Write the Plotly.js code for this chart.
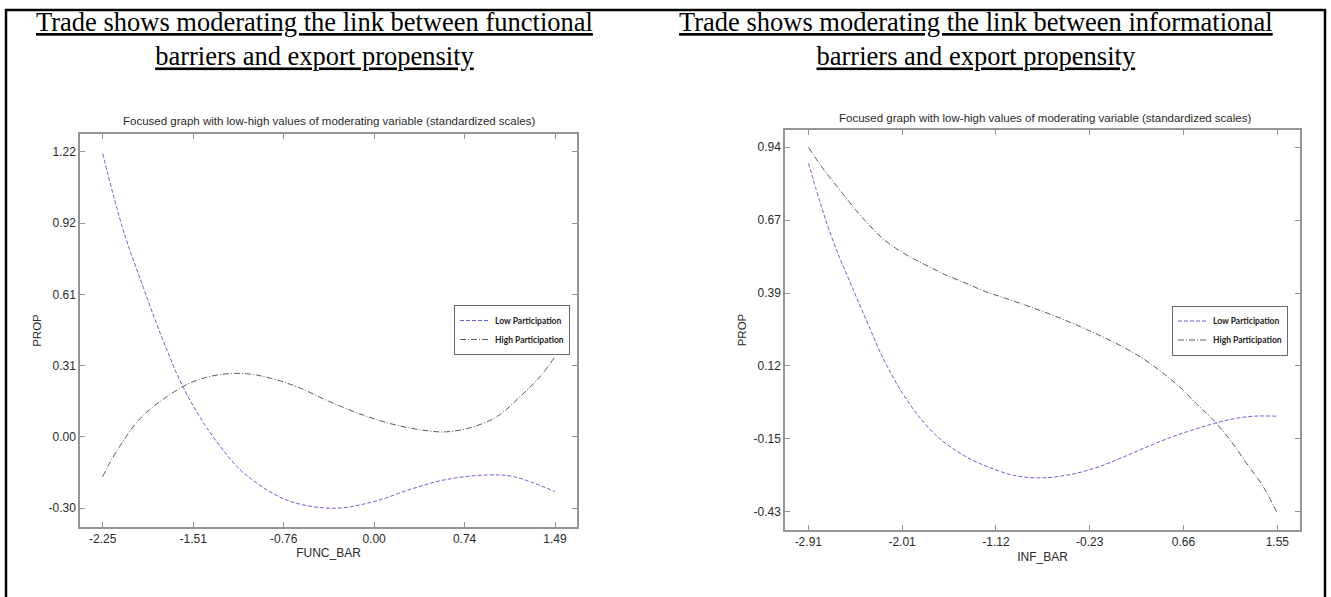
<!DOCTYPE html>
<html>
<head>
<meta charset="utf-8">
<script src="https://cdn.plot.ly/plotly-3.0.1.min.js"></script>
<style>
  html, body { margin: 0; padding: 0; background: #ffffff; }
  #chart { width: 1331px; height: 597px; }
</style>
</head>
<body>
<div id="chart"></div>
<script>
// ---------- Data ----------
// Left panel: functional barriers (FUNC_BAR) vs PROP
const funcLowX  = [-2.25, -2.08, -1.914, -1.749, -1.584, -1.39, -1.17, -1.06, -0.729, -0.343, -0.012, 0.319, 0.595, 0.925, 1.146, 1.49];
const funcLowY  = [1.212, 0.885, 0.641, 0.413, 0.215, 0.044, -0.105, -0.160, -0.265, -0.300, -0.272, -0.215, -0.177, -0.158, -0.165, -0.229];
const funcHighX = [-2.25, -2.19, -2.08, -1.969, -1.859, -1.749, -1.584, -1.446, -1.28, -1.115, -0.977, -0.784, -0.63, -0.370, -0.095, 0.181, 0.457, 0.595, 0.787, 1.008, 1.201, 1.366, 1.49];
const funcHighY = [-0.165, -0.105, -0.013, 0.066, 0.122, 0.165, 0.220, 0.250, 0.270, 0.275, 0.268, 0.243, 0.215, 0.154, 0.097, 0.054, 0.029, 0.026, 0.043, 0.090, 0.176, 0.261, 0.346];

// Right panel: informational barriers (INF_BAR) vs PROP
const infLowX  = [-2.908, -2.839, -2.775, -2.712, -2.617, -2.522, -2.427, -2.332, -2.237, -2.142, -2.014, -1.856, -1.698, -1.539, -1.349, -1.183, -0.961, -0.707, -0.454, -0.200, 0.054, 0.307, 0.561, 0.814, 0.941, 1.131, 1.321, 1.543];
const infLowY  = [0.880, 0.786, 0.704, 0.629, 0.529, 0.441, 0.353, 0.266, 0.178, 0.103, 0.015, -0.073, -0.142, -0.192, -0.236, -0.264, -0.293, -0.303, -0.293, -0.268, -0.230, -0.187, -0.147, -0.114, -0.099, -0.081, -0.071, -0.071];
const infHighX = [-2.908, -2.807, -2.712, -2.585, -2.458, -2.332, -2.205, -2.078, -1.919, -1.761, -1.603, -1.412, -1.222, -1.032, -0.771, -0.517, -0.263, -0.010, 0.244, 0.434, 0.624, 0.783, 0.941, 1.100, 1.258, 1.416, 1.543];
const infHighY = [0.940, 0.880, 0.830, 0.767, 0.704, 0.648, 0.598, 0.560, 0.523, 0.491, 0.460, 0.429, 0.397, 0.372, 0.336, 0.298, 0.255, 0.208, 0.153, 0.100, 0.038, -0.025, -0.085, -0.160, -0.248, -0.336, -0.430];

// Tick positions and labels
const funcXTickVals = [-2.25, -1.502, -0.754, -0.006, 0.742, 1.49];
const funcXTickText = ['-2.25', '-1.51', '-0.76', '0.00', '0.74', '1.49'];
const funcYTickVals = [-0.30, 0.004, 0.308, 0.612, 0.916, 1.22];
const funcYTickText = ['-0.30', '0.00', '0.31', '0.61', '0.92', '1.22'];
const infXTickVals  = [-2.91, -2.018, -1.126, -0.234, 0.658, 1.55];
const infXTickText  = ['-2.91', '-2.01', '-1.12', '-0.23', '0.66', '1.55'];
const infYTickVals  = [-0.43, -0.156, 0.118, 0.392, 0.666, 0.94];
const infYTickText  = ['-0.43', '-0.15', '0.12', '0.39', '0.67', '0.94'];

const seriesNames = ['Low Participation', 'High Participation'];
const headingLines = [
  ['Trade shows moderating the link between functional', 'barriers and export propensity'],
  ['Trade shows moderating the link between informational', 'barriers and export propensity']
];
const subTitle = 'Focused graph with low-high values of moderating variable (standardized scales)';
const axisTitles = { funcX: 'FUNC_BAR', infX: 'INF_BAR', y: 'PROP' };

// ---------- Styles ----------
const W = 1331, H = 597;
const px = v => v / W;
const py = v => 1 - v / H;
const SANS = 'Liberation Sans, Arial, sans-serif';
const SERIF = 'Liberation Serif, Times New Roman, serif';
const TXT = '#2a2a2a';
const lowLine  = { color: '#6565d4', width: 1, dash: '4px,2px', shape: 'spline', smoothing: 1 };
const highLine = { color: '#5a5a5a', width: 1, dash: '6px,2px,1px,2px', shape: 'spline', smoothing: 1 };

const traces = [
  { x: funcLowX,  y: funcLowY,  name: seriesNames[0], mode: 'lines', line: lowLine,  xaxis: 'x',  yaxis: 'y',  legend: 'legend' },
  { x: funcHighX, y: funcHighY, name: seriesNames[1], mode: 'lines', line: highLine, xaxis: 'x',  yaxis: 'y',  legend: 'legend' },
  { x: infLowX,   y: infLowY,   name: seriesNames[0], mode: 'lines', line: lowLine,  xaxis: 'x2', yaxis: 'y2', legend: 'legend2' },
  { x: infHighX,  y: infHighY,  name: seriesNames[1], mode: 'lines', line: highLine, xaxis: 'x2', yaxis: 'y2', legend: 'legend2' }
];

const frameAxis = {
  showgrid: false, zeroline: false,
  showline: true, linecolor: '#959595', linewidth: 1.5,
  mirror: 'ticks', ticks: 'inside', ticklen: 5, tickwidth: 1, tickcolor: '#959595',
  tickfont: { family: SANS, size: 12, color: TXT },
  tickmode: 'array', fixedrange: true
};

const legendStyle = {
  bgcolor: '#ffffff', bordercolor: '#6a6a6a', borderwidth: 1,
  font: { family: 'Lato, Open Sans, sans-serif', size: 8.5, color: '#222222', weight: 'bold' },
  xanchor: 'left', yanchor: 'middle', itemwidth: 30, traceorder: 'normal'
};

const headingText = lines => lines.map(l => '<u>' + l + '</u>').join('<br>');

const layout = {
  width: W, height: H,
  margin: { l: 0, r: 0, t: 0, b: 0 },
  paper_bgcolor: '#ffffff', plot_bgcolor: '#ffffff',
  showlegend: true,
  xaxis: Object.assign({}, frameAxis, {
    domain: [px(80), px(577)], range: [-2.4377, 1.6718], anchor: 'y',
    tickvals: funcXTickVals, ticktext: funcXTickText,
    title: { text: axisTitles.funcX, font: { family: SANS, size: 12, color: TXT }, standoff: 2 }
  }),
  yaxis: Object.assign({}, frameAxis, {
    domain: [py(527), py(134)], range: [-0.3798, 1.2954], anchor: 'x',
    tickvals: funcYTickVals, ticktext: funcYTickText,
    title: { text: axisTitles.y, font: { family: SANS, size: 11.5, color: TXT }, standoff: 4 }
  }),
  xaxis2: Object.assign({}, frameAxis, {
    domain: [px(785), px(1300)], range: [-3.1316, 1.7657], anchor: 'y2',
    tickvals: infXTickVals, ticktext: infXTickText,
    title: { text: axisTitles.infX, font: { family: SANS, size: 12, color: TXT }, standoff: 4 }
  }),
  yaxis2: Object.assign({}, frameAxis, {
    domain: [py(530), py(130)], range: [-0.4988, 1.005], anchor: 'x2',
    tickvals: infYTickVals, ticktext: infYTickText,
    title: { text: axisTitles.y, font: { family: SANS, size: 11.5, color: TXT }, standoff: 4 }
  }),
  legend:  Object.assign({}, legendStyle, { x: px(454),  y: py(330) }),
  legend2: Object.assign({}, legendStyle, { x: px(1172), y: py(330.5) }),
  annotations: [
    { text: headingText(headingLines[0]), xref: 'paper', yref: 'paper',
      x: px(314), y: py(39.5), xanchor: 'center', yanchor: 'middle', showarrow: false,
      font: { family: SERIF, size: 26.5, color: '#000000' } },
    { text: headingText(headingLines[1]), xref: 'paper', yref: 'paper',
      x: px(976), y: py(39.5), xanchor: 'center', yanchor: 'middle', showarrow: false,
      font: { family: SERIF, size: 26.5, color: '#000000' } },
    { text: subTitle, xref: 'paper', yref: 'paper', x: px(329), y: py(120.7),
      xanchor: 'center', yanchor: 'middle', showarrow: false,
      font: { family: SANS, size: 11.5, color: TXT } },
    { text: subTitle, xref: 'paper', yref: 'paper', x: px(1045), y: py(118.3),
      xanchor: 'center', yanchor: 'middle', showarrow: false,
      font: { family: SANS, size: 11.5, color: TXT } }
  ],
  shapes: [
    { type: 'rect', xref: 'paper', yref: 'paper', x0: px(6), x1: px(1325), y0: -0.05, y1: py(10),
      line: { color: '#000000', width: 2.5 }, fillcolor: 'rgba(0,0,0,0)', layer: 'below' }
  ]
};

Plotly.newPlot('chart', traces, layout, { displayModeBar: false, responsive: false });
</script>
</body>
</html>
